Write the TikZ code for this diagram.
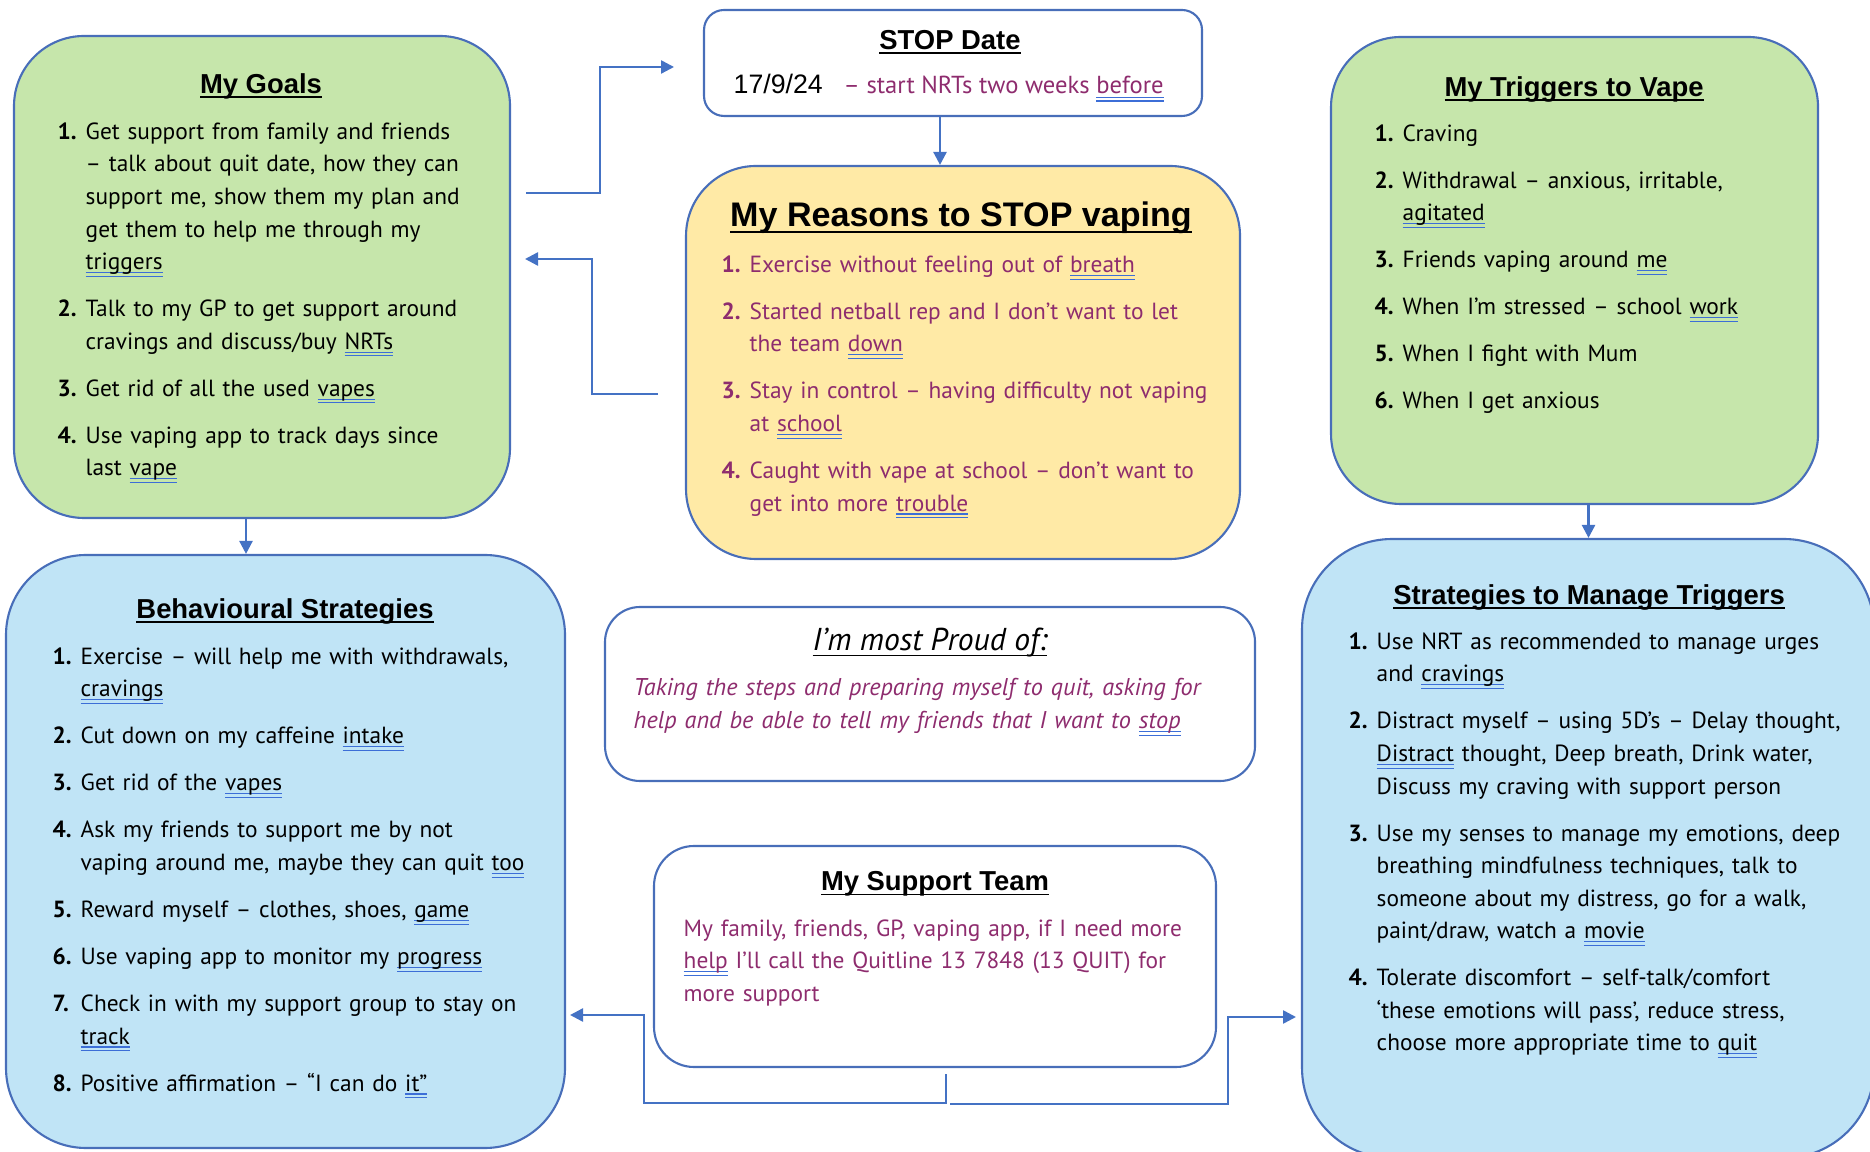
\documentclass[tikz,border=0pt]{standalone}
\usepackage{fontspec}
\setmainfont{PT Sans}
\newfontfamily\headfont{Liberation Sans}
\usepackage{xcolor}
\usetikzlibrary{calc,arrows.meta}

\definecolor{boxline}{RGB}{72,110,185}
\definecolor{arrowblue}{RGB}{68,114,196}
\definecolor{gramblue}{RGB}{60,110,215}
\definecolor{plum}{RGB}{142,44,110}
\definecolor{goalgreen}{RGB}{198,230,171}
\definecolor{reasonyellow}{RGB}{255,234,166}
\definecolor{stratblue}{RGB}{192,228,246}

\newlength\numw \setlength\numw{2.8mm}
\newsavebox\markbox
% black title underline
\newcommand\uline[1]{\sbox\markbox{#1}\rlap{\rule[-0.17em]{\wd\markbox}{0.5pt}}\usebox\markbox}
% double blue underline (spell-check marks)
\newcommand\gram[1]{\sbox\markbox{#1}\rlap{\textcolor{gramblue}{\rule[-0.3ex]{\wd\markbox}{0.3pt}}}\rlap{\textcolor{gramblue}{\rule[-0.62ex]{\wd\markbox}{0.3pt}}}\usebox\markbox}
\newcommand\itm[2]{\hangindent=\numw\hangafter=1\noindent\makebox[\numw][l]{\bfseries #1.}#2\par}

\tikzset{
  panel/.style={draw=boxline, line width=0.6pt, inner sep=0pt},
  heading/.style={font=\headfont\bfseries\fontsize{7.8}{9}\selectfont, inner sep=0pt},
  items/.style={anchor=north west, inner sep=0pt, text width=#1, align=left,
    font=\fontsize{6.65}{9.27}\selectfont, execute at begin node={\setlength\parskip{4.1pt}}},
  items/.default=45mm,
  conn/.style={draw=arrowblue, line width=0.7pt, -{Triangle[length=1.3mm,width=1.3mm]}}
}

\begin{document}
\begin{tikzpicture}[x=0.1mm,y=-0.1mm]
\useasboundingbox (0,0) rectangle (1870,1152);

% Boxes
\node[panel, rounded corners=2mm, minimum width=49.8mm, minimum height=10.6mm] (stopdate) at (953,63) {};
\node[panel, fill=goalgreen, rounded corners=7mm, minimum width=49.6mm, minimum height=48.2mm] (goals) at (262,277) {};
\node[panel, fill=reasonyellow, rounded corners=7mm, minimum width=55.4mm, minimum height=39.3mm] (reasons) at (963,362.5) {};
\node[panel, fill=goalgreen, rounded corners=7mm, minimum width=48.7mm, minimum height=46.7mm] (triggers) at (1574.5,270.5) {};
\node[panel, fill=stratblue, rounded corners=8mm, minimum width=55.9mm, minimum height=59.3mm] (behav) at (285.5,851.5) {};
\node[panel, fill=stratblue, rounded corners=9mm, minimum width=57.2mm, minimum height=61.9mm] (strat) at (1588,848.5) {};
\node[panel, rounded corners=3.5mm, minimum width=65mm, minimum height=17.4mm] (proud) at (930,694) {};
\node[panel, rounded corners=4mm, minimum width=56.2mm, minimum height=22.1mm] (support) at (935,956.5) {};

% STOP Date
\node[heading] (stoptitle) at (950,42) {\uline{STOP Date}};
\node[anchor=west, inner sep=0pt, font=\headfont\fontsize{7.6}{9}\selectfont] (stopday) at (733,84) {17/9/24};
\node[anchor=west, inner sep=0pt, text=plum, font=\fontsize{7}{9}\selectfont] (stopnote) at (843,89) {– start NRTs two weeks \gram{before}};

% My Goals
\node[heading] (goalstitle) at (261,86) {\uline{My Goals}};
\node[items=44mm] (goalslist) at (57,122) {%
\itm{1}{Get support from family and friends\newline – talk about quit date, how they can\newline support me, show them my plan and\newline get them to help me through my\newline \gram{triggers}}
\itm{2}{Talk to my GP to get support around\newline cravings and discuss/buy \gram{NRTs}}
\itm{3}{Get rid of all the used \gram{vapes}}
\itm{4}{Use vaping app to track days since\newline last \gram{vape}}};

% My Reasons
\node[heading, font=\headfont\bfseries\fontsize{9.7}{11}\selectfont] (reasonstitle) at (961,218) {\uline{My Reasons to STOP vaping}};
\node[items=50mm, text=plum] (reasonslist) at (721,255) {%
\itm{1}{Exercise without feeling out of \gram{breath}}
\itm{2}{Started netball rep and I don’t want to let\newline the team \gram{down}}
\itm{3}{Stay in control – having difficulty not vaping\newline at \gram{school}}
\itm{4}{Caught with vape at school – don’t want to\newline get into more \gram{trouble}}};

% My Triggers
\node[heading] (triggerstitle) at (1574,89) {\uline{My Triggers to Vape}};
\node[items=44mm] (triggerslist) at (1374,124) {%
\itm{1}{Craving}
\itm{2}{Withdrawal – anxious, irritable,\newline \gram{agitated}}
\itm{3}{Friends vaping around \gram{me}}
\itm{4}{When I’m stressed – school \gram{work}}
\itm{5}{When I fight with Mum}
\itm{6}{When I get anxious}};

% Behavioural Strategies
\node[heading] (behavtitle) at (285,611) {\uline{Behavioural Strategies}};
\node[items=50mm] (behavlist) at (52,647) {%
\itm{1}{Exercise – will help me with withdrawals,\newline \gram{cravings}}
\itm{2}{Cut down on my caffeine \gram{intake}}
\itm{3}{Get rid of the \gram{vapes}}
\itm{4}{Ask my friends to support me by not\newline vaping around me, maybe they can quit \gram{too}}
\itm{5}{Reward myself – clothes, shoes, \gram{game}}
\itm{6}{Use vaping app to monitor my \gram{progress}}
\itm{7}{Check in with my support group to stay on\newline \gram{track}}
\itm{8}{Positive affirmation – “I can do \gram{it”}}};

% Strategies to Manage Triggers
\node[heading] (strattitle) at (1589,597) {\uline{Strategies to Manage Triggers}};
\node[items=51mm] (stratlist) at (1348,632) {%
\itm{1}{Use NRT as recommended to manage urges\newline and \gram{cravings}}
\itm{2}{Distract myself – using 5D’s – Delay thought,\newline \gram{Distract} thought, Deep breath, Drink water,\newline Discuss my craving with support person}
\itm{3}{Use my senses to manage my emotions, deep\newline breathing mindfulness techniques, talk to\newline someone about my distress, go for a walk,\newline paint/draw, watch a \gram{movie}}
\itm{4}{Tolerate discomfort – self-talk/comfort\newline ‘these emotions will pass’, reduce stress,\newline choose more appropriate time to \gram{quit}}};

% I'm most Proud of
\node[inner sep=0pt, font=\itshape\fontsize{9}{10}\selectfont] (proudtitle) at (930,643) {\uline{I’m most Proud of:}};
\node[items=62mm, text=plum, font=\itshape\fontsize{6.9}{9.27}\selectfont] (proudtext) at (633,678) {%
Taking the steps and preparing myself to quit, asking for\newline help and be able to tell my friends that I want to \gram{stop}};

% My Support Team
\node[heading] (supporttitle) at (935,884) {\uline{My Support Team}};
\node[items=53mm, text=plum] (supporttext) at (683,919) {%
My family, friends, GP, vaping app, if I need more\newline \gram{help} I’ll call the Quitline 13 7848 (13 QUIT) for\newline more support};

% Connectors
\coordinate (goalsout) at (526,193);
\coordinate (stopin) at (674,67);
\draw[conn] (goalsout) -- (600,193) |- (stopin);

\coordinate (reasonsout) at (658,394);
\coordinate (goalsin) at (525,259);
\draw[conn] (reasonsout) -- (592,394) |- (goalsin);

\coordinate (stopout) at ($(stopdate.south)+(-13,0)$);
\draw[conn] (stopout) -- (stopout |- reasons.north);

\coordinate (goalsdown) at ($(goals.south)+(-16,0)$);
\draw[conn] (goalsdown) -- (goalsdown |- behav.north);

\coordinate (triggersdown) at ($(triggers.south)+(14,0)$);
\draw[conn] (triggersdown) -- (triggersdown |- strat.north);

\coordinate (supportout) at ($(support.south)+(11,6)$);
\coordinate (behavin) at (570,1015);
\coordinate (stratin) at (1296,1017);
\draw[conn] (supportout) |- (644,1103) |- (behavin);
\draw[conn] ($(supportout)+(4,30)$) -| (1228,1017) -- (stratin);
\end{tikzpicture}
\end{document}
